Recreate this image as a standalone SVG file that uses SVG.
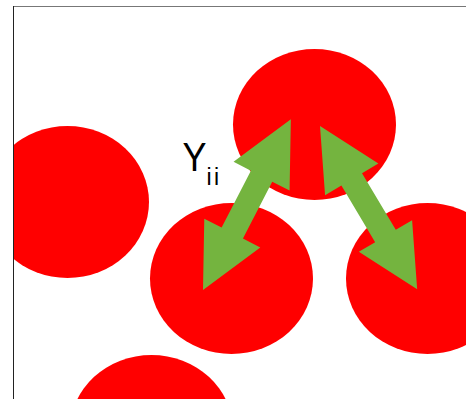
<svg xmlns="http://www.w3.org/2000/svg" width="466" height="399" viewBox="0 0 466 399">
  <defs>
    <clipPath id="frame"><rect x="14" y="7" width="460" height="400"/></clipPath>
    <style>
      .ball { fill: #ff0000; }
      .arrow { fill: #74b43f; }
      .lbl { font-family: "Liberation Sans", Arial, sans-serif; fill: #000; }
    </style>
  </defs>
  <rect width="466" height="399" fill="#fff"/>
  <g clip-path="url(#frame)">
    <g id="ball-top"><ellipse class="ball" cx="314.5" cy="124.5" rx="81.5" ry="75.5"/></g>
    <g id="ball-left"><ellipse class="ball" cx="67.5" cy="202" rx="81.5" ry="76"/></g>
    <g id="ball-middle"><ellipse class="ball" cx="231.5" cy="278.5" rx="81.5" ry="75.5"/></g>
    <g id="ball-right"><ellipse class="ball" cx="427.5" cy="278.5" rx="81.5" ry="75.5"/></g>
    <g id="ball-bottom"><ellipse class="ball" cx="151.5" cy="430.5" rx="81.5" ry="75.5"/></g>
  </g>
  <g id="connectors">
    <polygon class="arrow" transform="translate(203,290) rotate(-62.77)" points="0,0 64,-31.5 64,-12 128,-12 128,-31.5 192,0 128,31.5 128,12 64,12 64,31.5"/>
    <polygon class="arrow" transform="translate(320,126) rotate(59.24)" points="0,0 62,-31 62,-12 128,-12 128,-31 190,0 128,31 128,12 62,12 62,31"/>
  </g>
  <g id="label">
    <text class="lbl" x="0" y="171" font-size="40" transform="translate(182.5,0) scale(0.9,1)">Y</text>
    <text class="lbl" x="206.5" y="185" font-size="23" letter-spacing="2.5">ii</text>
  </g>
  <line x1="13" y1="6.5" x2="466" y2="6.5" stroke="#777" stroke-width="1"/>
  <line x1="13.5" y1="6" x2="13.5" y2="399" stroke="#222" stroke-width="1"/>
</svg>
